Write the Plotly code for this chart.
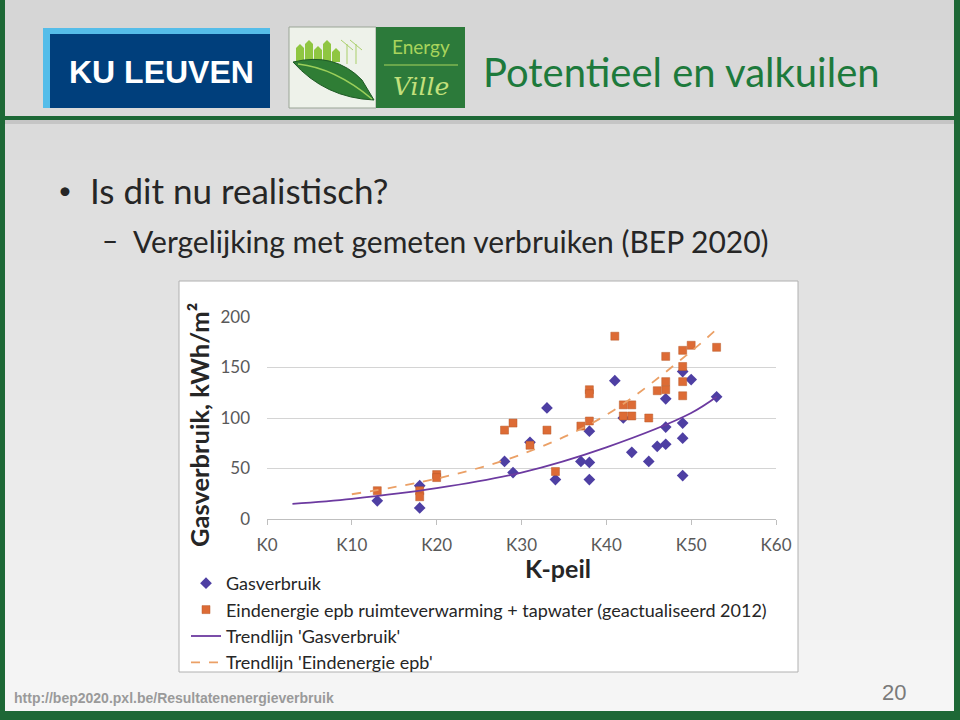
import plotly.graph_objects as go

# ---------------- data ----------------
x_ticks = [0, 10, 20, 30, 40, 50, 60]
x_ticklabels = ["K0", "K10", "K20", "K30", "K40", "K50", "K60"]
y_ticks = [0, 50, 100, 150, 200]

gas_k = [13, 18, 18, 28, 29, 31, 33, 34, 37, 38, 38, 38, 41, 42, 43, 45, 46, 47, 47, 47, 49, 49, 49, 49, 50, 53]
gas_v = [18, 33, 11, 57, 46, 76, 110, 39, 57, 56, 39, 87, 137, 100, 66, 57, 72, 74, 91, 119, 43, 80, 95, 146, 138, 121]

epb_k = [13, 18, 18, 20, 20, 28, 29, 31, 33, 34, 37, 38, 38, 38, 41, 42, 42, 43, 43, 45, 46, 47, 47, 47, 49, 49, 49, 49, 50, 53]
epb_v = [28, 28, 22, 44, 41, 88, 95, 73, 88, 47, 92, 97, 128, 124, 181, 113, 102, 113, 102, 100, 127, 161, 136, 128, 167, 151, 136, 122, 172, 170]

trend_gas_k = [3, 10, 20, 30, 40, 50, 53]
trend_gas_v = [15, 20, 30.5, 46, 71, 105, 121]

trend_epb_k = [10, 20, 30, 40, 50, 53]
trend_epb_v = [24.5, 40, 64, 103, 166, 188]

legend_names = [
    "Gasverbruik",
    "Eindenergie epb ruimteverwarming + tapwater (geactualiseerd 2012)",
    "Trendlijn 'Gasverbruik'",
    "Trendlijn 'Eindenergie epb'",
]
x_title = "K-peil"
y_title = "Gasverbruik, kWh/m²"

W, H = 960, 720
def X(p): return p / W
def Y(p): return 1 - p / H

fig = go.Figure()

fig.add_trace(go.Scatter(x=gas_k, y=gas_v, mode="markers", name=legend_names[0],
                         marker=dict(symbol="diamond", size=9, color="#4e3fa3")))
fig.add_trace(go.Scatter(x=epb_k, y=epb_v, mode="markers", name=legend_names[1],
                         marker=dict(symbol="square", size=8, color="#dd6b35",
                                     line=dict(color="#b85a2a", width=0.5))))
fig.add_trace(go.Scatter(x=trend_gas_k, y=trend_gas_v, mode="lines", name=legend_names[2],
                         line=dict(color="#6c3aa0", width=1.8, shape="spline")))
fig.add_trace(go.Scatter(x=trend_epb_k, y=trend_epb_v, mode="lines", name=legend_names[3],
                         line=dict(color="#eba066", width=1.8, dash="dash", shape="spline")))

def prect(x0, x1, y0, y1, fill, line=None):
    return dict(type="rect", xref="paper", yref="paper", layer="below",
                x0=X(x0), x1=X(x1), y0=Y(y1), y1=Y(y0), fillcolor=fill,
                line=line or dict(width=0))

shapes = []
# background gradient bands
n = 36
for i in range(n):
    t = i / (n - 1)
    c = int(214 + (246 - 214) * t)
    shapes.append(prect(0, W, i * H / n, (i + 1) * H / n + 1, f"rgb({c},{c},{c})"))
green = "#1d6836"
# frame
shapes += [
    prect(0, 5, 0, H, green),
    prect(954, W, 0, H, green),
    prect(0, W, 711, H, green),
    prect(0, W, 116, 120, green),
    prect(5, 954, 120, 124, "rgba(120,120,120,0.22)"),
]
# KU Leuven logo
shapes += [
    prect(43, 270, 28, 108, "#55bde9"),
    prect(50, 270, 34, 108, "#003f7c"),
]
# EnergyVille logo
shapes += [
    prect(289, 376, 27, 108, "#eef2ea", dict(width=1, color="#9aa596")),
    prect(376, 465, 27, 108, "#2c7a3a"),
    dict(type="line", xref="paper", yref="paper", layer="below", x0=X(384), x1=X(458), y0=Y(65), y1=Y(65),
         line=dict(width=1, color="#a8d45c")),
]
# buildings silhouette
bx = [(296, 304, 44), (305, 313, 40), (314, 322, 46), (323, 331, 40), (332, 340, 48)]
for a, b, top in bx:
    shapes.append(dict(type="path", xref="paper", yref="paper", layer="below",
                       path=f"M {X(a)},{Y(62)} L {X(a)},{Y(top+4)} L {X((a+b)/2)},{Y(top)} L {X(b)},{Y(top+4)} L {X(b)},{Y(62)} Z",
                       fillcolor="#8fc641", line=dict(width=0)))
# turbines
for tx in (347, 356):
    shapes.append(dict(type="line", xref="paper", yref="paper", layer="below",
                       x0=X(tx), x1=X(tx), y0=Y(64), y1=Y(44), line=dict(width=1, color="#a9cf6a")))
    shapes.append(dict(type="line", xref="paper", yref="paper", layer="below",
                       x0=X(tx - 6), x1=X(tx + 6), y0=Y(40), y1=Y(50), line=dict(width=1, color="#a9cf6a")))
# leaf
shapes.append(dict(type="path", xref="paper", yref="paper", layer="below",
                   path=(f"M {X(293)},{Y(62)} Q {X(335)},{Y(52)} {X(362)},{Y(80)} "
                         f"L {X(374)},{Y(100)} Q {X(325)},{Y(98)} {X(293)},{Y(62)} Z"),
                   fillcolor="#2f7d35", line=dict(width=1, color="#1f5a25")))
shapes.append(dict(type="path", xref="paper", yref="paper", layer="below",
                   path=f"M {X(298)},{Y(64)} Q {X(335)},{Y(68)} {X(372)},{Y(99)}",
                   line=dict(width=1.5, color="#9ccf5a")))
# chart white box
shapes.append(prect(179, 798, 281, 672, "white", dict(width=1, color="#b0b0b0")))

txt = "#262626"
def ann(text, x, y, size, color=txt, family="Lato", xanchor="left", angle=0):
    return dict(text=text, x=X(x), y=Y(y), xref="paper", yref="paper", xanchor=xanchor,
                yanchor="middle", showarrow=False, textangle=angle,
                font=dict(family=family, size=size, color=color))

annotations = [
    ann("Potentieel en valkuilen", 481, 72, 40, "#1d7a3c"),
    ann("<b>KU LEUVEN</b>", 161, 72, 32, "white", "Liberation Sans", "center"),
    ann("Energy", 421, 47, 19, "#a8d45c", "Lato", "center"),
    ann("<i>Ville</i>", 421, 86, 25, "#c3e07c", "DejaVu Serif", "center"),
    ann("•", 56, 190, 24),
    ann("Is dit nu realistisch?", 88, 190, 35),
    ann("–", 100, 240, 28),
    ann("Vergelijking met gemeten verbruiken (BEP 2020)", 131, 241, 30),
    ann("<b>http://bep2020.pxl.be/Resultatenenergieverbruik</b>", 12, 698, 14, "#9a9a9a", "Liberation Sans"),
    ann("20", 908, 692, 22, "#7a7a7a", "Liberation Sans", "right"),
    ann(f"<b>{x_title}</b>", 558, 568, 25, txt, "Lato", "center"),
    ann(f"<b>{y_title}</b>", 199, 425, 25.5, txt, "Lato", "center", -90),
]

fig.update_layout(
    width=W, height=H, margin=dict(l=0, r=0, t=0, b=0, autoexpand=False),
    paper_bgcolor="#e6e6e6", plot_bgcolor="rgba(0,0,0,0)",
    shapes=shapes, annotations=annotations,
    font=dict(family="Lato", color=txt),
    xaxis=dict(domain=[X(267), X(776)], range=[0, 60], tickvals=x_ticks, ticktext=x_ticklabels,
               showgrid=False, zeroline=False, showline=True, linecolor="#bfbfbf", linewidth=1,
               ticks="outside", ticklen=5, tickcolor="#bfbfbf", automargin=False,
               tickfont=dict(family="Lato", size=17, color="#595959"), ticklabelstandoff=6),
    yaxis=dict(domain=[Y(519), Y(317)], range=[0, 200], tickvals=y_ticks, automargin=False,
               showgrid=True, gridcolor="#d4d4d4", gridwidth=1, zeroline=False, showline=False,
               tickfont=dict(family="Lato", size=17, color="#595959"), ticklabelstandoff=16),
    legend=dict(x=X(186), y=Y(565), xanchor="left", yanchor="top", bgcolor="rgba(0,0,0,0)",
                font=dict(family="Lato", size=18, color=txt), itemwidth=30, tracegroupgap=0),
    showlegend=True,
)

fig.write_html("out.html")
